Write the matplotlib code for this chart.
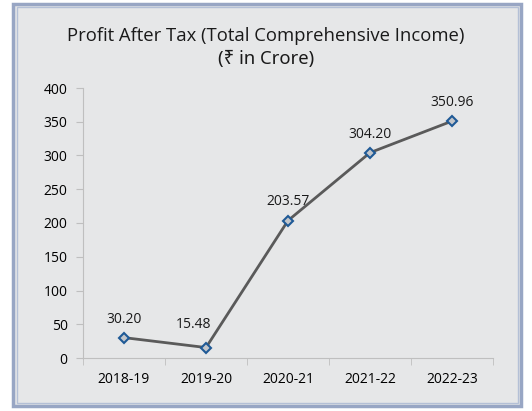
import matplotlib.pyplot as plt
from matplotlib.patches import Rectangle

years = ["2018-19", "2019-20", "2020-21", "2021-22", "2022-23"]
profit = [30.20, 15.48, 203.57, 304.20, 350.96]
yticks = [0, 50, 100, 150, 200, 250, 300, 350, 400]

plt.rcParams['font.family'] = ['Open Sans', 'DejaVu Sans']

fig = plt.figure(figsize=(5.32, 4.11), dpi=100)
fig.patch.set_facecolor('white')

# panel background + border
fig.patches.append(Rectangle((13 / 532, 5 / 411), 508 / 532, 402 / 411, transform=fig.transFigure,
                             facecolor='#e6e7e8', edgecolor='#98a6c4', linewidth=2.5, zorder=-10))
fig.patches.append(Rectangle((16.5 / 532, 8.5 / 411), 501 / 532, 395 / 411, transform=fig.transFigure,
                             facecolor='none', edgecolor='#b4c0d6', linewidth=1, zorder=-9))

ax = fig.add_axes([83 / 532, 53 / 411, 410 / 532, 270 / 411])
ax.set_zorder(1)
ax.set_facecolor('none')

x = list(range(len(years)))
ax.plot(x, profit, color='#5a5a5a', linewidth=2, marker='D', markersize=5.5,
        markerfacecolor='#c3c6ca', markeredgecolor='#1f5a96', markeredgewidth=1.5, zorder=3,
        clip_on=False)

offsets = [(0, 8), (-9, 11), (0, 8), (0, 8), (0, 8)]
for xi, v, off in zip(x, profit, offsets):
    ax.annotate(f"{v:.2f}", (xi, v), xytext=off, textcoords='offset points',
                ha='center', va='bottom', fontsize=10, color='#1a1a1a')

ax.set_xlim(-0.5, len(years) - 0.5)
ax.set_ylim(0, 400)
ax.set_yticks(yticks)
ax.set_xticks(x)
ax.set_xticklabels(years)
ax.set_xticks([i - 0.5 for i in range(len(years) + 1)], minor=True)
ax.tick_params(axis='x', which='major', length=0, pad=10, labelsize=10)
ax.tick_params(axis='x', which='minor', length=5, color='#bfbfbf', direction='out')
ax.tick_params(axis='y', length=5, color='#bfbfbf', labelsize=10, pad=6)

for side in ['top', 'right']:
    ax.spines[side].set_visible(False)
ax.spines['left'].set_color('#bfbfbf')
ax.spines['bottom'].set_color('#bfbfbf')

fig.text(0.5, 375 / 411, "Profit After Tax (Total Comprehensive Income)", ha='center', va='center',
         fontsize=13.3, color='#1a1a1a')
fig.text(0.5, 352 / 411, "(\u20b9 in Crore)", ha='center', va='center', fontsize=13.3,
         color='#1a1a1a', family=['Noto Sans', 'DejaVu Sans'])

fig.savefig('out.png', dpi=100)
